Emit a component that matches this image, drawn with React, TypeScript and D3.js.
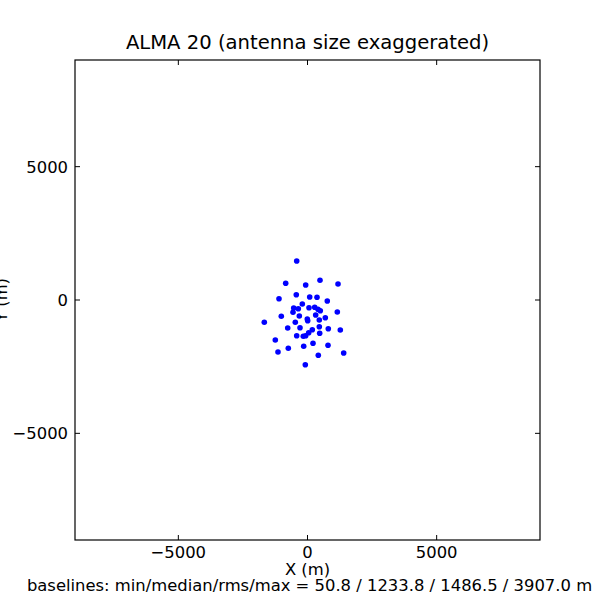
import React, { useEffect, useRef } from 'react';
import * as d3 from 'd3';

// antenna positions in metres
const antennaX = [
  -418, -844, -70, 484, 1181, -1103, -434, 85, 368, 766,
  -201, -534, -356, 58, 279, 406, 495, -561, 1154, -1014,
  -317, 317, 689, -8, 8, 457, -1672, -472, -766, -290,
  457, 186, 805, 1270, 46, 472, -418, -163, -70, -1246,
  213, 794, -147, -743, -1142, 418, 1401, -85,
];
const antennaY = [
  1462, 626, 562, 739, 600, 49, 199, 112, 101, -37,
  -150, -300, -326, -289, -274, -349, -401, -461, -450, -611,
  -600, -562, -664, -712, -776, -750, -836, -836, -1050, -1039,
  -1001, -1114, -1076, -1125, -1226, -1249, -1339, -1361, -1339, -1500,
  -1624, -1699, -1736, -1811, -1950, -2074, -1988, -2426,
];
const tickValues = [-5000, 0, 5000];
const axisDomain = [-9000, 9000];

const titleText = 'ALMA 20 (antenna size exaggerated)';
const xLabel = 'X (m)';
const yLabel = 'Y (m)';
const statsLabel = 'baselines: min/median/rms/max = 50.8 / 1233.8 / 1486.5 / 3907.0 m';

const App = () => {
  const svgRef = useRef(null);

  useEffect(() => {
    const svg = d3.select(svgRef.current);
    svg.selectAll('*').remove();

    const left = 75, right = 540, top = 60, bottom = 540;
    const font = 'DejaVu Sans, sans-serif';
    const fs = '16.4px';

    const xScale = d3.scaleLinear().domain(axisDomain).range([left, right]);
    const yScale = d3.scaleLinear().domain(axisDomain).range([bottom, top]);
    const fmt = d3.format('d');
    const tickLen = 5;

    svg.append('rect')
      .attr('width', 600).attr('height', 600)
      .style('fill', '#ffffff');

    // points
    svg.selectAll('.ant')
      .data(antennaX.map((x, i) => [x, antennaY[i]]))
      .enter().append('circle')
      .attr('class', 'ant')
      .attr('cx', d => xScale(d[0]))
      .attr('cy', d => yScale(d[1]))
      .attr('r', 2.8)
      .style('fill', '#0000ff');

    // ticks, inward on all four sides
    const g = svg.append('g').style('stroke', '#000').style('stroke-width', 1);
    tickValues.forEach(v => {
      const x = xScale(v), y = yScale(v);
      g.append('line').attr('x1', x).attr('x2', x).attr('y1', bottom).attr('y2', bottom - tickLen);
      g.append('line').attr('x1', x).attr('x2', x).attr('y1', top).attr('y2', top + tickLen);
      g.append('line').attr('y1', y).attr('y2', y).attr('x1', left).attr('x2', left + tickLen);
      g.append('line').attr('y1', y).attr('y2', y).attr('x1', right).attr('x2', right - tickLen);
    });

    // frame
    svg.append('rect')
      .attr('x', left).attr('y', top)
      .attr('width', right - left).attr('height', bottom - top)
      .style('fill', 'none')
      .style('stroke', '#000')
      .style('stroke-width', 1.2);

    // tick labels
    svg.selectAll('.xt')
      .data(tickValues)
      .enter().append('text')
      .attr('x', d => xScale(d))
      .attr('y', 558)
      .attr('text-anchor', 'middle')
      .style('font-family', font).style('font-size', fs)
      .text(d => fmt(d));

    svg.selectAll('.yt')
      .data(tickValues)
      .enter().append('text')
      .attr('x', 68)
      .attr('y', d => yScale(d))
      .attr('dy', '0.36em')
      .attr('text-anchor', 'end')
      .style('font-family', font).style('font-size', fs)
      .text(d => fmt(d));

    const cx = (left + right) / 2;

    // title
    svg.append('text')
      .attr('x', cx).attr('y', 49)
      .attr('text-anchor', 'middle')
      .style('font-family', font).style('font-size', '19.6px')
      .text(titleText);

    // x label (two lines)
    svg.append('text')
      .attr('x', cx).attr('y', 575)
      .attr('text-anchor', 'middle')
      .style('font-family', font).style('font-size', fs)
      .text(xLabel);
    svg.append('text')
      .attr('x', cx + 2).attr('y', 591)
      .attr('text-anchor', 'middle')
      .style('font-family', font).style('font-size', fs)
      .text(statsLabel);

    // y label, clipped by the left edge
    svg.append('text')
      .attr('transform', 'translate(7, 300) rotate(-90)')
      .attr('text-anchor', 'middle')
      .style('font-family', font).style('font-size', fs)
      .text(yLabel);
  }, []);

  return (
    <svg ref={svgRef} width={600} height={600}
      style={{ position: 'absolute', left: 0, top: 0, display: 'block' }}></svg>
  );
};

export default App;
